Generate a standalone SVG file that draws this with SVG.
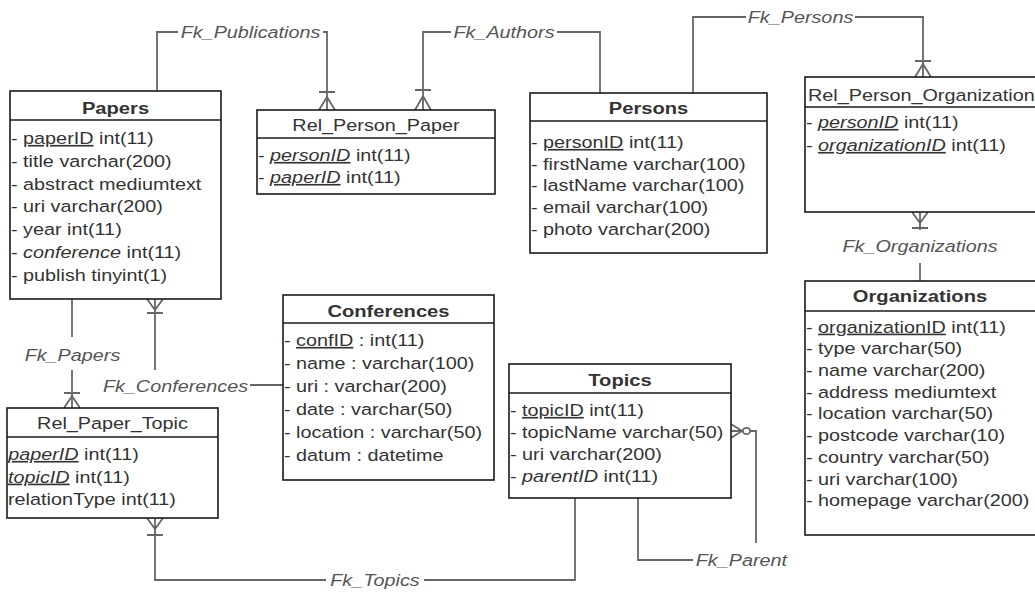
<svg xmlns="http://www.w3.org/2000/svg" width="1035" height="593" viewBox="0 0 1035 593">
<style>
.bg{fill:#fff}
.box{fill:#fff;stroke:#1a1a1a;stroke-width:1.6}
.sep{stroke:#1a1a1a;stroke-width:1.6}
.conn{fill:none;stroke:#666;stroke-width:1.8}
.t{font-family:"Liberation Sans",Arial,sans-serif;font-size:16.5px;fill:#333;transform-box:fill-box;transform-origin:0 0;transform:scaleX(1.2)}
.h{font-weight:bold;font-size:16.8px;text-anchor:middle;transform-origin:50% 50%}
.hn{font-size:16.5px;text-anchor:middle;transform-origin:50% 50%}
.lbl{font-style:italic;fill:#555;text-anchor:middle;transform-origin:50% 50%}
.u{text-decoration:underline}
.i{font-style:italic}
</style>
<rect class="bg" x="0" y="0" width="1035" height="593"/>

<g id="connectors">
  <!-- Fk_Publications -->
  <path class="conn" d="M157,91 V32 H178 M323,32 H327 V110"/>
  <path class="conn" d="M319,92 H335 M319,110 L327,97 L335,110"/>
  <text class="t lbl" x="250.5" y="38">Fk_Publications</text>
  <!-- Fk_Authors -->
  <path class="conn" d="M423,110 V32 H451 M557,32 H600 V93"/>
  <path class="conn" d="M415,90 H431 M415,110 L423,96 L431,110"/>
  <text class="t lbl" x="504" y="38">Fk_Authors</text>
  <!-- Fk_Persons -->
  <path class="conn" d="M693,93 V17 H746 M855,17 H923 V77"/>
  <path class="conn" d="M915,61 H931 M915,77 L923,64 L931,77"/>
  <text class="t lbl" x="800.5" y="23">Fk_Persons</text>
  <!-- Fk_Organizations -->
  <path class="conn" d="M920,212 V230 M920,263 V281"/>
  <path class="conn" d="M912,212 L920,223 L928,212 M912,228 H928"/>
  <text class="t lbl" x="920" y="252">Fk_Organizations</text>
  <!-- Fk_Papers -->
  <path class="conn" d="M72,299 V337 M72,370 V408"/>
  <path class="conn" d="M64,393 H80 M64,408 L72,396 L80,408"/>
  <text class="t lbl" x="72.5" y="361">Fk_Papers</text>
  <!-- Fk_Conferences -->
  <path class="conn" d="M155,299 V370 M250,385 H283"/>
  <path class="conn" d="M147,299 L155,310 L163,299 M147,313 H163"/>
  <text class="t lbl" x="175.5" y="392">Fk_Conferences</text>
  <!-- Fk_Topics -->
  <path class="conn" d="M155,518 V580 H326 M424,580 H575 V498"/>
  <path class="conn" d="M147,518 L155,529 L163,518 M147,535 H163"/>
  <text class="t lbl" x="375" y="586">Fk_Topics</text>
  <!-- Fk_Parent -->
  <path class="conn" d="M638,498 V560 H693 M756,543 V431 H750"/>
  <path class="conn" d="M731,424 L742,431 L731,438 M731,431 H743"/>
  <ellipse class="conn" cx="746.5" cy="431" rx="3.6" ry="3.2"/>
  <text class="t lbl" x="741.5" y="566">Fk_Parent</text>
</g>

<g id="Papers">
  <rect class="box" x="10" y="91" width="211" height="208"/>
  <line class="sep" x1="10" y1="120" x2="221" y2="120"/>
  <text class="t h" x="115.5" y="114">Papers</text>
  <text class="t" x="11" y="144">- <tspan class="u">paperID</tspan> int(11)</text>
  <text class="t" x="11" y="166.8">- title varchar(200)</text>
  <text class="t" x="11" y="189.6">- abstract mediumtext</text>
  <text class="t" x="11" y="212.4">- uri varchar(200)</text>
  <text class="t" x="11" y="235.2">- year int(11)</text>
  <text class="t" x="11" y="258">- <tspan class="i">conference</tspan> int(11)</text>
  <text class="t" x="11" y="280.8">- publish tinyint(1)</text>
</g>

<g id="Rel_Person_Paper">
  <rect class="box" x="257" y="110" width="238" height="84"/>
  <line class="sep" x1="257" y1="138" x2="495" y2="138"/>
  <text class="t hn" x="376" y="131">Rel_Person_Paper</text>
  <text class="t" x="258" y="161">- <tspan class="i u">personID</tspan> int(11)</text>
  <text class="t" x="258" y="183">- <tspan class="i u">paperID</tspan> int(11)</text>
</g>

<g id="Persons">
  <rect class="box" x="530" y="93" width="237" height="160"/>
  <line class="sep" x1="530" y1="121" x2="767" y2="121"/>
  <text class="t h" x="648.5" y="114">Persons</text>
  <text class="t" x="531" y="148">- <tspan class="u">personID</tspan> int(11)</text>
  <text class="t" x="531" y="169.7">- firstName varchar(100)</text>
  <text class="t" x="531" y="191.4">- lastName varchar(100)</text>
  <text class="t" x="531" y="213.1">- email varchar(100)</text>
  <text class="t" x="531" y="234.8">- photo varchar(200)</text>
</g>

<g id="Rel_Person_Organization">
  <rect class="box" x="805" y="77" width="240" height="135"/>
  <line class="sep" x1="805" y1="107" x2="1045" y2="107"/>
  <text class="t" x="808" y="101">Rel_Person_Organization</text>
  <text class="t" x="806" y="128">- <tspan class="i u">personID</tspan> int(11)</text>
  <text class="t" x="806" y="151">- <tspan class="i u">organizationID</tspan> int(11)</text>
</g>

<g id="Organizations">
  <rect class="box" x="805" y="281" width="240" height="254"/>
  <line class="sep" x1="805" y1="311" x2="1045" y2="311"/>
  <text class="t h" x="920" y="302">Organizations</text>
  <text class="t" x="806" y="332.7">- <tspan class="u">organizationID</tspan> int(11)</text>
  <text class="t" x="806" y="354.4">- type varchar(50)</text>
  <text class="t" x="806" y="376.1">- name varchar(200)</text>
  <text class="t" x="806" y="397.8">- address mediumtext</text>
  <text class="t" x="806" y="419.5">- location varchar(50)</text>
  <text class="t" x="806" y="441.2">- postcode varchar(10)</text>
  <text class="t" x="806" y="462.9">- country varchar(50)</text>
  <text class="t" x="806" y="484.6">- uri varchar(100)</text>
  <text class="t" x="806" y="506.3">- homepage varchar(200)</text>
</g>

<g id="Conferences">
  <rect class="box" x="283" y="295" width="211" height="185"/>
  <line class="sep" x1="283" y1="323" x2="494" y2="323"/>
  <text class="t h" x="388.5" y="317.5">Conferences</text>
  <text class="t" x="284" y="346">- <tspan class="u">confID</tspan> : int(11)</text>
  <text class="t" x="284" y="369">- name : varchar(100)</text>
  <text class="t" x="284" y="392">- uri : varchar(200)</text>
  <text class="t" x="284" y="415">- date : varchar(50)</text>
  <text class="t" x="284" y="438">- location : varchar(50)</text>
  <text class="t" x="284" y="461">- datum : datetime</text>
</g>

<g id="Topics">
  <rect class="box" x="509" y="364" width="222" height="134"/>
  <line class="sep" x1="509" y1="393" x2="731" y2="393"/>
  <text class="t h" x="620" y="386">Topics</text>
  <text class="t" x="510" y="416">- <tspan class="u">topicID</tspan> int(11)</text>
  <text class="t" x="510" y="437.7">- topicName varchar(50)</text>
  <text class="t" x="510" y="460">- uri varchar(200)</text>
  <text class="t" x="510" y="482">- <tspan class="i">parentID</tspan> int(11)</text>
</g>

<g id="Rel_Paper_Topic">
  <rect class="box" x="7" y="408" width="211" height="110"/>
  <line class="sep" x1="7" y1="437" x2="218" y2="437"/>
  <text class="t hn" x="112.5" y="429">Rel_Paper_Topic</text>
  <text class="t" x="8" y="460"><tspan class="i u">paperID</tspan> int(11)</text>
  <text class="t" x="8" y="482.7"><tspan class="i u">topicID</tspan> int(11)</text>
  <text class="t" x="8" y="505">relationType int(11)</text>
</g>
</svg>
